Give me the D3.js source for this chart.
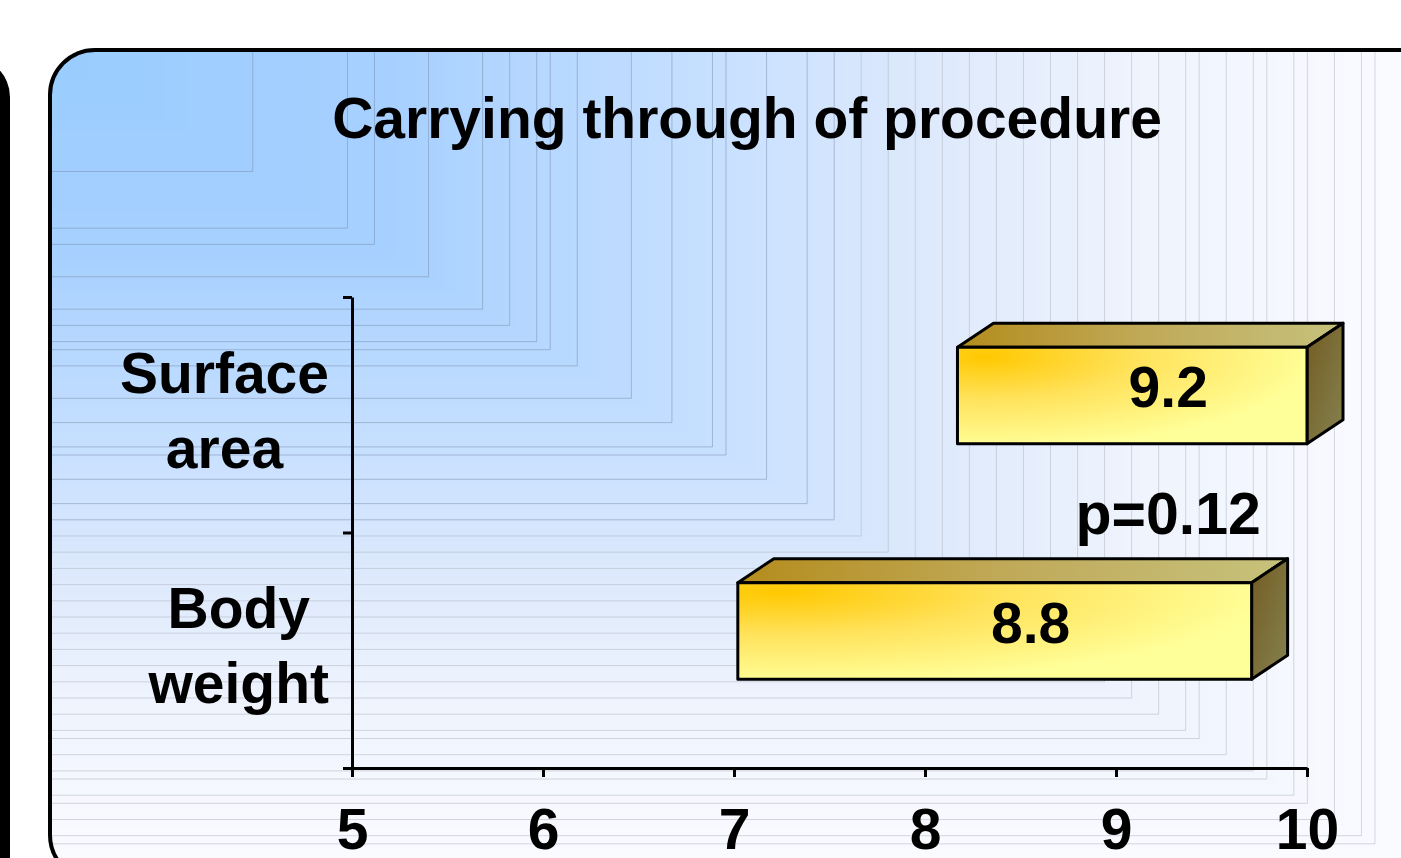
<!DOCTYPE html>
<html>
<head>
<meta charset="utf-8">
<script src="https://cdn.jsdelivr.net/npm/d3@7"></script>
<style>
  html, body { margin: 0; padding: 0; background: #fff; overflow: hidden; }
  svg { display: block; font-family: Arial, "Liberation Sans", sans-serif; font-weight: bold; }
</style>
</head>
<body>
<div id="chart"></div>
<script>
// chart values
const categories = ["Surface area", "Body weight"];
const categoryLines = [["Surface", "area"], ["Body", "weight"]];
const barStart = [8.17, 7.02];
const barEnd = [10.0, 9.71];
const barLabels = ["9.2", "8.8"];
const xTicks = [5, 6, 7, 8, 9, 10];
const titleText = "Carrying through of procedure";
const pValueText = "p=0.12";

const width = 1401, height = 858;
const panel = { x: 50, y: 50, w: 1420, h: 830 };
const grad = { w: 1352, h: 810 };
const depth = { dx: 36, dy: 24 };

const svg = d3.select("#chart").append("svg")
    .attr("width", width)
    .attr("height", height);

const defs = svg.append("defs");

// front face: gold in the upper left fading to pale yellow
const frontGrad = defs.append("radialGradient")
    .attr("id", "frontGrad")
    .attr("cx", 0.08).attr("cy", 0.1).attr("r", 0.95)
    .attr("fx", 0.08).attr("fy", 0.1);
frontGrad.append("stop").attr("offset", "0%").attr("stop-color", "#ffc800");
frontGrad.append("stop").attr("offset", "45%").attr("stop-color", "#ffe25a");
frontGrad.append("stop").attr("offset", "100%").attr("stop-color", "#ffff99");

const topGrad = defs.append("linearGradient").attr("id", "topGrad")
    .attr("x1", 0).attr("y1", 0).attr("x2", 1).attr("y2", 0);
topGrad.append("stop").attr("offset", "0%").attr("stop-color", "#b48c1c");
topGrad.append("stop").attr("offset", "50%").attr("stop-color", "#c0aa5a");
topGrad.append("stop").attr("offset", "100%").attr("stop-color", "#c6c27c");

const sideGrad = defs.append("linearGradient").attr("id", "sideGrad")
    .attr("x1", 0).attr("y1", 0).attr("x2", 1).attr("y2", 1);
sideGrad.append("stop").attr("offset", "0%").attr("stop-color", "#735c22");
sideGrad.append("stop").attr("offset", "100%").attr("stop-color", "#858250");

defs.append("clipPath").attr("id", "panelClip")
    .append("rect")
    .attr("x", panel.x).attr("y", panel.y)
    .attr("width", panel.w).attr("height", panel.h)
    .attr("rx", 45);

// edge of the neighbouring panel on the far left
svg.append("rect")
    .attr("x", -200).attr("y", 57)
    .attr("width", 210).attr("height", 900)
    .attr("rx", 40)
    .attr("fill", "#000");

// background: rectangular gradient from the top-left corner
const bgColor = d3.scaleLinear()
    .domain([0, 0.25, 0.5, 0.65, 0.8, 1])
    .range(["#99ccff", "#a6d0ff", "#c8e0ff", "#dde9fc", "#eef3fd", "#fafbff"]);

const bg = svg.append("g").attr("clip-path", "url(#panelClip)");
bg.append("rect")
    .attr("x", panel.x).attr("y", panel.y)
    .attr("width", panel.w).attr("height", panel.h)
    .attr("fill", bgColor(1));
const steps = d3.range(140, 0, -1).map(i => i / 140);
bg.selectAll("rect.step")
    .data(steps)
    .enter().append("rect")
    .attr("class", "step")
    .attr("x", panel.x).attr("y", panel.y)
    .attr("width", d => d * grad.w)
    .attr("height", d => d * grad.h)
    .attr("fill", d => bgColor(d));

// faint seams between the gradient bands
const seams = [0.15, 0.22, 0.24, 0.28, 0.32, 0.34, 0.36, 0.37, 0.39, 0.43, 0.46, 0.49, 0.5, 0.53,
    0.56, 0.58, 0.6, 0.62, 0.64, 0.66, 0.68, 0.7, 0.72, 0.74, 0.76, 0.78, 0.8, 0.82, 0.84,
    0.85, 0.87, 0.89, 0.9, 0.92, 0.93, 0.95, 0.97, 0.98];
bg.selectAll("path.seam")
    .data(seams)
    .enter().append("path")
    .attr("class", "seam")
    .attr("d", d => {
        const cx = panel.x + d * grad.w, cy = panel.y + d * grad.h;
        return `M${panel.x},${cy}H${cx}V${panel.y}`;
    })
    .attr("fill", "none")
    .attr("stroke", d => d < 0.6 ? "#7f93b3" : "#b4b8c4")
    .attr("stroke-opacity", 0.55)
    .attr("stroke-width", 1);

// panel border
svg.append("rect")
    .attr("x", panel.x).attr("y", panel.y)
    .attr("width", panel.w).attr("height", panel.h)
    .attr("rx", 45)
    .attr("fill", "none")
    .attr("stroke", "#000")
    .attr("stroke-width", 4);

// title
svg.append("text")
    .attr("x", 747).attr("y", 138)
    .attr("text-anchor", "middle")
    .attr("font-size", 57)
    .text(titleText);

// scales
const x = d3.scaleLinear().domain([5, 10]).range([352, 1307]);
const y = d3.scaleBand().domain(categories).range([297, 768]);
const yTicks = d3.scaleLinear().domain([0, categories.length]).range([768, 297]);

// axes
const xAxisG = svg.append("g")
    .attr("transform", `translate(0,${y.range()[1]})`)
    .call(d3.axisBottom(x).tickValues(xTicks).tickFormat(d3.format("d"))
        .tickSize(9).tickSizeOuter(0));
const yAxisG = svg.append("g")
    .attr("transform", `translate(${x.range()[0]},0)`)
    .call(d3.axisLeft(yTicks).tickValues(d3.range(0, categories.length + 1))
        .tickSize(9).tickSizeOuter(0).tickFormat(""));

[xAxisG, yAxisG].forEach(g => {
    g.select(".domain").attr("stroke", "#000").attr("stroke-width", 3);
    g.selectAll(".tick line").attr("stroke", "#000").attr("stroke-width", 3);
});
xAxisG.selectAll(".tick text")
    .attr("y", 81).attr("dy", 0)
    .attr("fill", "#000")
    .attr("font-family", "Arial, 'Liberation Sans', sans-serif")
    .attr("font-weight", "bold")
    .attr("font-size", 57);

// category labels: lines centred in a block whose right edge meets the axis
const labelG = svg.append("g").attr("font-size", 57);
categories.forEach((cat, i) => {
    const mid = y(cat) + y.bandwidth() / 2;
    const block = labelG.append("g");
    const texts = block.selectAll("text")
        .data(categoryLines[i])
        .enter().append("text")
        .attr("text-anchor", "middle")
        .attr("y", (d, j) => mid - 22 + j * 75)
        .text(d => d);
    let maxW = 0;
    texts.each(function () { maxW = Math.max(maxW, this.getComputedTextLength()); });
    texts.attr("x", 329 - maxW / 2);
});

// 3D floating bars
const bars = categories.map((cat, i) => ({
    cat,
    x0: x(barStart[i]),
    x1: x(barEnd[i]),
    y0: y(cat) + y.bandwidth() * 0.213,
    y1: y(cat) + y.bandwidth() * 0.213 + y.bandwidth() * 0.41,
    label: barLabels[i]
}));

const barG = svg.selectAll(".bar")
    .data(bars)
    .enter().append("g")
    .attr("class", "bar")
    .attr("stroke", "#000")
    .attr("stroke-width", 3)
    .attr("stroke-linejoin", "round");

barG.append("path")
    .attr("d", d => `M${d.x0},${d.y0}L${d.x0 + depth.dx},${d.y0 - depth.dy}` +
        `L${d.x1 + depth.dx},${d.y0 - depth.dy}L${d.x1},${d.y0}Z`)
    .attr("fill", "url(#topGrad)");
barG.append("path")
    .attr("d", d => `M${d.x1},${d.y0}L${d.x1 + depth.dx},${d.y0 - depth.dy}` +
        `L${d.x1 + depth.dx},${d.y1 - depth.dy}L${d.x1},${d.y1}Z`)
    .attr("fill", "url(#sideGrad)");
barG.append("rect")
    .attr("x", d => d.x0).attr("y", d => d.y0)
    .attr("width", d => d.x1 - d.x0)
    .attr("height", d => d.y1 - d.y0)
    .attr("fill", "url(#frontGrad)");

barG.append("text")
    .attr("x", d => (d.x0 + d.x1) / 2 + depth.dx)
    .attr("y", d => (d.y0 + d.y1) / 2 + 12)
    .attr("text-anchor", "middle")
    .attr("stroke", "none")
    .attr("fill", "#000")
    .attr("font-size", 57)
    .text(d => d.label);

// significance note between the two bars
svg.append("text")
    .attr("x", (bars[0].x0 + bars[0].x1) / 2 + depth.dx)
    .attr("y", y(categories[1]) + 1)
    .attr("text-anchor", "middle")
    .attr("font-size", 59)
    .text(pValueText);
</script>
</body>
</html>
